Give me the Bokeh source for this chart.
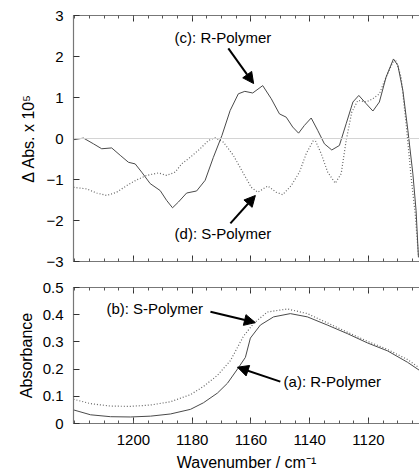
from bokeh.plotting import figure
from bokeh.layouts import column
from bokeh.models import (Range1d, FixedTicker, LinearAxis, Span, Arrow, NormalHead, Label,
                          CustomLabelingPolicy)
from bokeh.embed import file_html
from bokeh.resources import INLINE

# ---------------- data ----------------
# Top panel: difference spectra (Delta Abs x 10^5), R-polymer (solid)
wn_r_diff = [1220.4, 1217.0, 1213.6, 1210.8, 1207.4, 1204.5, 1201.7, 1199.4, 1197.2, 1194.3,
             1190.9, 1188.7, 1186.7, 1184.7, 1181.9, 1178.5, 1175.6, 1172.8, 1169.9, 1167.1,
             1164.3, 1162.1, 1159.4, 1156.0, 1153.1, 1150.3, 1148.0, 1145.8, 1143.8, 1141.8,
             1139.5, 1137.3, 1135.0, 1132.5, 1129.9, 1127.6, 1125.3, 1123.3, 1120.8, 1118.5,
             1116.3, 1114.0, 1111.5, 1110.0, 1108.3, 1106.6, 1104.9, 1103.8, 1103.0]
r_diff = [-0.03, 0.01, -0.13, -0.25, -0.23, -0.41, -0.58, -0.62, -0.82, -1.10,
          -1.27, -1.51, -1.69, -1.55, -1.33, -1.28, -1.02, -0.46, 0.07, 0.68,
          1.09, 1.15, 1.11, 1.29, 0.97, 0.60, 0.52, 0.28, 0.13, 0.32,
          0.50, 0.20, -0.13, -0.28, -0.17, 0.36, 0.89, 1.05, 0.85, 0.67,
          0.89, 1.50, 1.94, 1.78, 1.17, 0.20, -0.86, -1.76, -2.90]

# S-polymer (dotted)
wn_s_diff = [1220.4, 1215.9, 1212.5, 1209.1, 1205.7, 1202.3, 1198.9, 1195.5, 1191.5, 1188.7,
             1185.8, 1183.6, 1180.7, 1177.3, 1174.5, 1172.2, 1169.4, 1166.0, 1162.2, 1159.9,
             1157.7, 1154.3, 1151.4, 1149.2, 1146.3, 1143.5, 1141.2, 1138.4, 1136.1, 1133.9,
             1131.3, 1129.3, 1127.6, 1125.7, 1123.6, 1120.8, 1118.5, 1116.3, 1114.0, 1111.7,
             1110.6, 1108.9, 1107.2, 1105.5, 1104.1, 1103.0]
s_diff = [-1.19, -1.23, -1.33, -1.39, -1.31, -1.15, -1.01, -0.90, -0.84, -0.90,
          -0.82, -0.62, -0.46, -0.25, -0.05, 0.02, -0.09, -0.41, -0.90, -1.19,
          -1.31, -1.16, -1.31, -1.37, -1.15, -0.82, -0.37, 0.00, -0.37, -0.82,
          -1.09, -0.86, -0.05, 0.64, 0.93, 0.89, 0.97, 1.09, 1.50, 1.86,
          1.89, 1.50, 0.36, -0.94, -1.84, -2.85]

# Bottom panel: absorbance spectra
wn_abs = [1220.4, 1214.6, 1207.8, 1201.0, 1194.2, 1187.4, 1180.6, 1176.2, 1171.4, 1168.0,
          1164.6, 1161.9, 1160.2, 1156.8, 1152.3, 1146.6, 1140.8, 1134.0, 1127.1, 1120.3,
          1113.5, 1106.7, 1102.6]
r_abs = [0.050, 0.032, 0.025, 0.024, 0.027, 0.035, 0.052, 0.076, 0.112, 0.148,
         0.200, 0.243, 0.314, 0.362, 0.392, 0.404, 0.392, 0.362, 0.330, 0.296,
         0.267, 0.225, 0.195]

wn_s_abs = [1220.4, 1214.6, 1207.8, 1201.0, 1194.2, 1187.4, 1180.6, 1176.2, 1171.4, 1167.0,
            1162.6, 1159.1, 1154.4, 1147.6, 1140.8, 1134.0, 1127.1, 1120.3, 1113.5, 1106.7,
            1102.6]
s_abs = [0.089, 0.073, 0.064, 0.063, 0.068, 0.080, 0.106, 0.136, 0.177, 0.231,
         0.320, 0.368, 0.410, 0.421, 0.404, 0.370, 0.335, 0.302, 0.272, 0.235,
         0.204]

x_major = [1200, 1180, 1160, 1140, 1120]
x_minor = list(range(1100, 1225, 5))
y_top_ticks = [-3, -2, -1, 0, 1, 2, 3]
y_bot_ticks = [0, 0.1, 0.2, 0.3, 0.4, 0.5]

FONT = "Liberation Sans"
FRAME = "#777777"
SOLID = "#4a4a4a"
DOT = "#666666"

X_RANGE = (1220.4, 1102.64)

NO_LABELS = "const ids = [...indices]; for (const i of ids) { indices.unset(i) } return indices"


def style_axis(ax, labels=True):
    ax.axis_line_color = FRAME
    ax.axis_line_width = 1.2
    ax.major_tick_line_color = "#333333"
    ax.minor_tick_line_color = "#555555"
    ax.major_tick_in = 6
    ax.major_tick_out = 0
    ax.minor_tick_in = 3
    ax.minor_tick_out = 0
    ax.major_label_text_font = FONT
    ax.major_label_text_color = "black"
    ax.major_label_text_font_size = "15px"
    ax.axis_label_text_font = FONT
    ax.axis_label_text_font_style = "normal"
    ax.axis_label_text_color = "black"
    ax.axis_label_text_font_size = "16px"
    if not labels:
        ax.major_label_policy = CustomLabelingPolicy(code=NO_LABELS)
        ax.major_label_standoff = 0


def xtick_axis(p, side, labels):
    ax = LinearAxis(ticker=FixedTicker(ticks=x_major, minor_ticks=x_minor))
    style_axis(ax, labels)
    p.add_layout(ax, side)
    return ax


def arrow(p, xs, ys, xe, ye):
    p.add_layout(Arrow(end=NormalHead(size=11, fill_color="black", line_color="black"),
                       x_start=xs, y_start=ys, x_end=xe, y_end=ye,
                       line_width=2, line_color="black"))


def label(p, x, y, txt):
    p.add_layout(Label(x=x, y=y, text=txt, text_font=FONT, text_font_size="15px",
                       text_baseline="middle", text_align="left", text_color="black"))


# ---------------- top panel ----------------
p1 = figure(width=419, height=274, output_backend="svg", toolbar_location=None,
            x_range=Range1d(*X_RANGE), y_range=Range1d(-3, 3),
            x_axis_location=None, y_axis_location=None,
            min_border_left=73, min_border_right=0, min_border_top=15, min_border_bottom=13)
p1.outline_line_color = None
p1.xgrid.visible = False
p1.ygrid.visible = False

yax1 = LinearAxis(ticker=FixedTicker(ticks=y_top_ticks, minor_ticks=[]),
                  axis_label="\u0394 Abs. x 10\u2075")
style_axis(yax1)
yax1.major_label_standoff = 10
yax1.axis_label_standoff = 6
p1.add_layout(yax1, "left")
xtick_axis(p1, "above", False)
xtick_axis(p1, "below", False)

p1.add_layout(Span(location=0, dimension="width", line_color="#d4d4d4", line_width=1.2))
p1.line(wn_s_diff, s_diff, line_color=DOT, line_width=1.2, line_dash="1 2")
p1.line(wn_r_diff, r_diff, line_color=SOLID, line_width=1.0)

label(p1, 1186.0, 2.46, "(c): R-Polymer")
label(p1, 1186.0, -2.32, "(d): S-Polymer")
arrow(p1, 1167.7, 2.20, 1159.1, 1.34)
arrow(p1, 1167.0, -2.07, 1158.5, -1.39)

# ---------------- bottom panel ----------------
p2 = figure(width=419, height=201, output_backend="svg", toolbar_location=None,
            x_range=Range1d(*X_RANGE), y_range=Range1d(0, 0.5),
            x_axis_location=None, y_axis_location=None,
            min_border_left=73, min_border_right=0, min_border_top=9, min_border_bottom=52)
p2.outline_line_color = None
p2.xgrid.visible = False
p2.ygrid.visible = False

yax2 = LinearAxis(ticker=FixedTicker(ticks=y_bot_ticks, minor_ticks=[]),
                  axis_label="Absorbance")
style_axis(yax2)
yax2.major_label_standoff = 10
yax2.axis_label_standoff = 5
yax2.major_label_overrides = {0: "0"}
p2.add_layout(yax2, "left")
xtick_axis(p2, "above", False)
xb = xtick_axis(p2, "below", True)
xb.axis_label = "Wavenumber / cm\u207b\u00b9"
xb.major_label_standoff = 11
xb.axis_label_standoff = 6

p2.line(wn_s_abs, s_abs, line_color=DOT, line_width=1.2, line_dash="1 2")
p2.line(wn_abs, r_abs, line_color=SOLID, line_width=1.0)

label(p2, 1209.2, 0.421, "(b): S-Polymer")
label(p2, 1148.9, 0.154, "(a): R-Polymer")
arrow(p2, 1173.8, 0.411, 1158.5, 0.371)
arrow(p2, 1150.0, 0.154, 1164.6, 0.207)

layout = column(p1, p2, spacing=0)
open("out.html", "w").write(file_html(layout, INLINE))
